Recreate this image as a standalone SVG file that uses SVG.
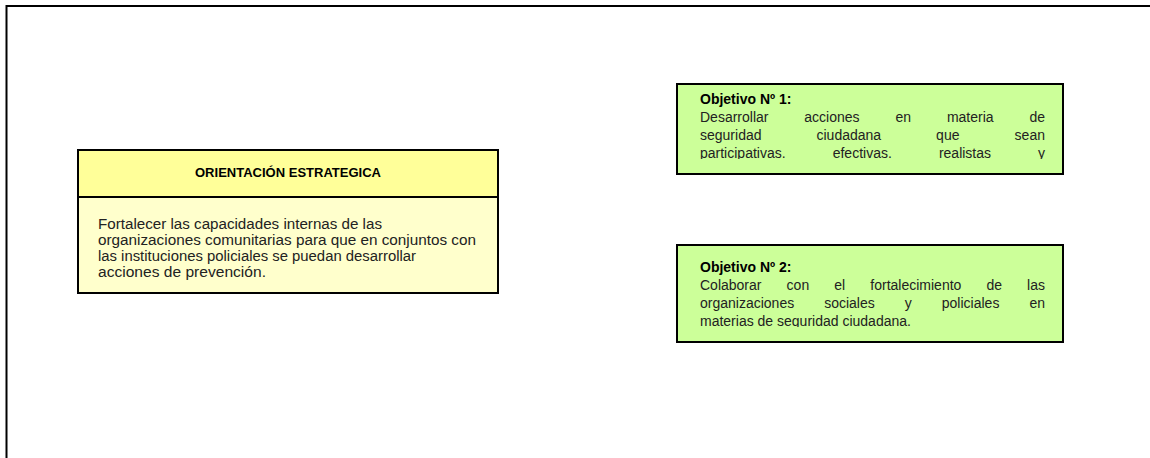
<svg xmlns="http://www.w3.org/2000/svg" width="1150" height="458" viewBox="0 0 1150 458">
<style>
.t{font-family:"Liberation Sans",Arial,sans-serif;font-size:14px;fill:#222}
.b{font-weight:bold;fill:#000}
.h{font-family:"Liberation Sans",Arial,sans-serif;font-size:13px;font-weight:bold;fill:#000}
.box{stroke:#000;stroke-width:2}
</style>
<defs>
<clipPath id="c0"><rect x="79" y="198" width="418" height="82"/></clipPath>
<clipPath id="c1"><rect x="678" y="85" width="384" height="74"/></clipPath>
<clipPath id="c2"><rect x="678" y="246" width="384" height="81"/></clipPath>
</defs>
<rect width="1150" height="458" fill="#fff"/>
<path d="M6.5,458 V6 H1150" fill="none" stroke="#000" stroke-width="2"/>
<g id="orientacion">
<rect class="box" x="78" y="150" width="420" height="143" fill="#FFFFCC"/>
<rect class="box" x="78" y="150" width="420" height="47" fill="#FFFF99"/>
<text class="h" x="288" y="177" text-anchor="middle" textLength="186" lengthAdjust="spacingAndGlyphs">ORIENTACIÓN ESTRATEGICA</text>
<g clip-path="url(#c0)">
<text class="t" x="98" y="229" textLength="284" lengthAdjust="spacingAndGlyphs">Fortalecer las capacidades internas de las</text>
<text class="t" x="98" y="245" textLength="378" lengthAdjust="spacingAndGlyphs">organizaciones comunitarias para que en conjuntos con</text>
<text class="t" x="98" y="261" textLength="318" lengthAdjust="spacingAndGlyphs">las instituciones policiales se puedan desarrollar</text>
<text class="t" x="98" y="277" textLength="168" lengthAdjust="spacingAndGlyphs">acciones de prevención.</text>
</g>
</g>
<g id="objetivo1">
<rect class="box" x="677" y="84" width="386" height="90" fill="#CCFF99"/>
<g clip-path="url(#c1)">
<text class="t b" x="700" y="104">Objetivo Nº 1:</text>
<text class="t" y="122"><tspan x="700">Desarrollar</tspan><tspan x="804.3">acciones</tspan><tspan x="895.4">en</tspan><tspan x="946.9">materia</tspan><tspan x="1029.4">de</tspan></text>
<text class="t" y="140"><tspan x="700">seguridad</tspan><tspan x="816.5">ciudadana</tspan><tspan x="936.1">que</tspan><tspan x="1014.6">sean</tspan></text>
<text class="t" y="158"><tspan x="700">participativas.</tspan><tspan x="832.7">efectivas.</tspan><tspan x="938.9">realistas</tspan><tspan x="1038">y</tspan></text>
</g>
</g>
<g id="objetivo2">
<rect class="box" x="677" y="245" width="386" height="97" fill="#CCFF99"/>
<g clip-path="url(#c2)">
<text class="t b" x="700" y="272">Objetivo Nº 2:</text>
<text class="t" y="290"><tspan x="700">Colaborar</tspan><tspan x="786.6">con</tspan><tspan x="834.3">el</tspan><tspan x="870.3">fortalecimiento</tspan><tspan x="986.4">de</tspan><tspan x="1027.1">las</tspan></text>
<text class="t" y="308"><tspan x="700">organizaciones</tspan><tspan x="824.2">sociales</tspan><tspan x="904.8">y</tspan><tspan x="941.8">policiales</tspan><tspan x="1029.4">en</tspan></text>
<text class="t" x="700" y="326">materias de seguridad ciudadana.</text>
</g>
</g>
<g id="connectors"/>
</svg>
